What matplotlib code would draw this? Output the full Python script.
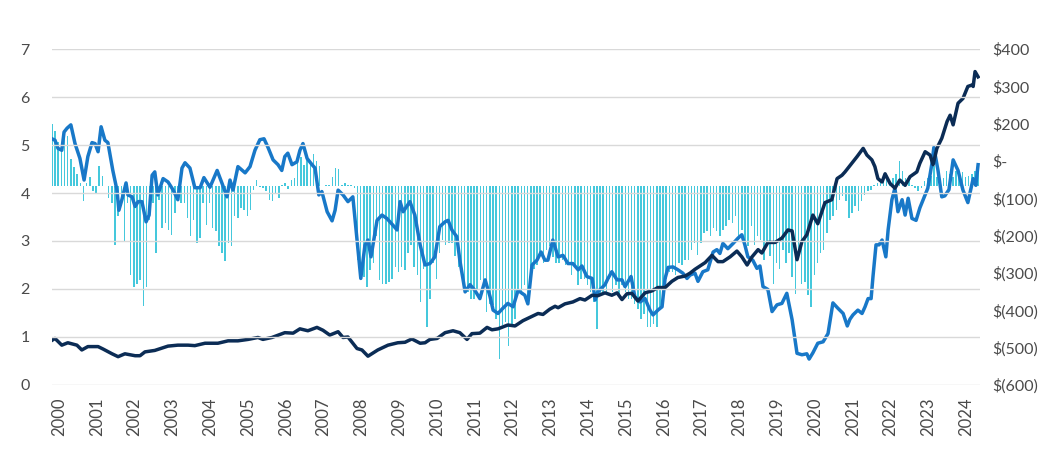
"""
Two index lines on the left scale with monthly flow bars on the right scale.
"""
import numpy as np
import matplotlib
matplotlib.use("Agg")
import matplotlib.pyplot as plt
from matplotlib.ticker import FuncFormatter

# monthly bars (right axis, dollars), Jan 2000 onwards
BAR_VALUES = [
    154, 135, 101, 87, 125, 119, 51, 28, 7, -22, -75, -22,
    -2, -46, -52, 31, 1, -31, -66, -81, -205, -119, -90, -193,
    -81, -296, -331, -322, -310, -387, -331, -131, -81, -228, -72, -155,
    -140, -161, -175, -110, -72, -81, -81, -125, -178, -131, -199, -184,
    -81, -146,
    -81, -155, -164, -208, -228, -252, -199, -208, -119, -125,
    -96, -102, -119, -102, -43, -13, -34, -37, -46, -72,
    -75, -52, -66, -28, -22, -40, -13, -7, 51, 57,
    34, 57, 42, 66, 45, 31, -31, -28, -28, -2,
    25, 22, -28, -22, -28, -28, -37, -250, -290, -302, -331,
    -281, -258, -178, -310, -322, -322, -316, -307, -272, -287,
    -272, -280, -228, -205, -272, -296, -375, -278, -449, -366,
    -258, -307, -228, -190, -205, -199, -199, -237, -272, -296,
    -325, -346, -366, -366, -340, -310, -316, -404, -381, -384,
    -425, -546, -443, -434, -507, -449, -425, -346, -355, -325,
    -384, -307, -278, -266, -228, -258, -219, -208, -240, -258,
    -258, -249, -266, -266, -296, -266, -325, -307, -307, -325,
    -346, -375, -455, -355, -346, -346, -307, -346, -325, -355,
    -325, -346, -366, -366, -381, -396, -425, -410, -449, -449,
    -440, -449, -396, -355, -307, -287, -287, -296,
    -258, -266, -249, -249, -219, -199, -234, -200, -169, -164,
    -178, -155, -164, -178, -161, -149, -131, -140, -119, -190,
    -161, -205, -208, -149, -205, -178, -190, -249, -199, -237,
    -322, -258, -278, -219, -258, -228, -300, -352, -219, -322,
    -316, -355, -390, -296, -258, -228, -219, -170, -131, -119,
    -102, -72, -60, -75, -125, -110, -90, -105, -75, -57,
    -46, -43, -28, -20, -16, -13, -7, -22, -7, 7,
    45, 16, -7, -7, -28, -37, -46, -37, -16, -7,
    1, 30, -2, -28, -7, 16, 7, -2, 16, 7,
    13, -2, 1, 7, 16, 25,
]
BAR_BASE = -30

# dark line (left axis)
NAVY_T = [
    2000.00, 2000.08, 2000.26, 2000.42, 2000.66, 2000.79, 2000.95, 2001.22, 2001.35, 2001.59,
    2001.75, 2001.93, 2002.20, 2002.33, 2002.46, 2002.72, 2002.91, 2003.07, 2003.33, 2003.60,
    2003.78, 2004.05, 2004.39, 2004.66, 2004.92, 2005.19, 2005.45, 2005.58, 2005.82, 2006.16,
    2006.38, 2006.56, 2006.77, 2007.01, 2007.17, 2007.35, 2007.57, 2007.70, 2007.83, 2008.07,
    2008.20, 2008.36, 2008.62, 2008.89, 2009.15, 2009.34, 2009.52, 2009.74, 2009.87, 2010.00,
    2010.19, 2010.40, 2010.61, 2010.79, 2010.98, 2011.11, 2011.32, 2011.51, 2011.64, 2011.80,
    2012.06, 2012.25, 2012.46, 2012.70, 2012.86, 2012.99, 2013.17, 2013.31, 2013.39, 2013.57,
    2013.78, 2013.97, 2014.10, 2014.29, 2014.44, 2014.63, 2014.81, 2014.95, 2015.08, 2015.21,
    2015.34, 2015.50, 2015.69, 2015.87, 2016.03, 2016.22, 2016.40, 2016.56, 2016.75, 2016.88,
    2017.01, 2017.28, 2017.46, 2017.62, 2017.75, 2017.94, 2018.12, 2018.25, 2018.39, 2018.52,
    2018.68, 2018.78, 2018.94, 2019.13, 2019.31, 2019.47, 2019.58, 2019.71, 2019.84, 2019.97,
    2020.13, 2020.26, 2020.45, 2020.63, 2020.77, 2020.90, 2020.98, 2021.16, 2021.30, 2021.46,
    2021.56, 2021.69, 2021.77, 2021.85, 2021.96, 2022.04, 2022.17, 2022.30, 2022.43, 2022.57,
    2022.70, 2022.88, 2022.96, 2023.10, 2023.23, 2023.31, 2023.41, 2023.54, 2023.68, 2023.76,
    2023.84, 2023.97, 2024.10, 2024.23, 2024.34, 2024.37, 2024.42, 2024.50,
]
NAVY_V = [
    0.93, 0.97, 0.83, 0.88, 0.83, 0.73, 0.80, 0.80, 0.75, 0.65,
    0.59, 0.65, 0.61, 0.61, 0.69, 0.72, 0.77, 0.81, 0.83, 0.83,
    0.82, 0.87, 0.87, 0.92, 0.92, 0.95, 0.99, 0.95, 0.99, 1.09,
    1.08, 1.17, 1.13, 1.20, 1.14, 1.04, 1.11, 0.99, 1.00, 0.76,
    0.73, 0.60, 0.73, 0.83, 0.88, 0.89, 0.96, 0.87, 0.88, 0.95,
    0.97, 1.09, 1.13, 1.09, 0.95, 1.07, 1.08, 1.20, 1.15, 1.17,
    1.25, 1.23, 1.34, 1.43, 1.49, 1.47, 1.58, 1.64, 1.61, 1.69,
    1.73, 1.80, 1.77, 1.87, 1.86, 1.92, 1.87, 1.92, 1.78, 1.90,
    1.91, 1.75, 1.92, 1.96, 2.03, 2.03, 2.16, 2.24, 2.27, 2.33,
    2.41, 2.55, 2.70, 2.57, 2.57, 2.67, 2.79, 2.67, 2.50, 2.67,
    2.82, 2.75, 2.97, 2.97, 3.06, 3.23, 3.21, 2.61, 2.99, 3.13,
    3.54, 3.36, 3.80, 3.86, 4.30, 4.37, 4.44, 4.62, 4.76, 4.93,
    4.79, 4.69, 4.55, 4.30, 4.23, 4.40, 4.20, 4.10, 4.27, 4.16,
    4.34, 4.44, 4.62, 4.86, 4.79, 4.59, 4.93, 5.14, 5.49, 5.62,
    5.42, 5.87, 5.97, 6.22, 6.25, 6.22, 6.53, 6.42,
]

# mid-blue line (left axis)
BLUE_T = [
    2000.00, 2000.08, 2000.16, 2000.26, 2000.32, 2000.40, 2000.50, 2000.61, 2000.74, 2000.85,
    2000.95, 2001.06, 2001.14, 2001.22, 2001.30, 2001.40, 2001.48, 2001.61, 2001.72, 2001.77,
    2001.85, 2001.96, 2002.01, 2002.12, 2002.20, 2002.28, 2002.38, 2002.49, 2002.57, 2002.65,
    2002.72, 2002.80, 2002.94, 2003.07, 2003.20, 2003.33, 2003.44, 2003.52, 2003.65, 2003.78,
    2003.92, 2004.02, 2004.18, 2004.37, 2004.50, 2004.63, 2004.71, 2004.79, 2004.92, 2005.11,
    2005.24, 2005.37, 2005.50, 2005.61, 2005.71, 2005.85, 2005.98, 2006.08, 2006.16, 2006.24,
    2006.35, 2006.48, 2006.56, 2006.64, 2006.75, 2006.88, 2006.96, 2007.06, 2007.14, 2007.28,
    2007.41, 2007.49, 2007.57, 2007.70, 2007.83, 2007.96, 2008.07, 2008.17, 2008.28, 2008.36,
    2008.44, 2008.60, 2008.73, 2008.86, 2009.02, 2009.13, 2009.21, 2009.29, 2009.47, 2009.60,
    2009.74, 2009.87, 2010.00, 2010.13, 2010.26, 2010.40, 2010.48, 2010.58, 2010.71, 2010.79,
    2010.93, 2011.06, 2011.19, 2011.32, 2011.46, 2011.59, 2011.67, 2011.80, 2011.93, 2012.06,
    2012.20, 2012.33, 2012.51, 2012.59, 2012.70, 2012.83, 2012.94, 2013.04, 2013.12, 2013.25,
    2013.39, 2013.52, 2013.65, 2013.78, 2013.92, 2014.02, 2014.15, 2014.29, 2014.37, 2014.44,
    2014.63, 2014.71, 2014.81, 2014.95, 2015.08, 2015.16, 2015.32, 2015.42, 2015.56, 2015.69,
    2015.82, 2015.90, 2016.03, 2016.14, 2016.22, 2016.30, 2016.43, 2016.56, 2016.69, 2016.80,
    2016.88, 2017.01, 2017.09, 2017.22, 2017.35, 2017.49, 2017.59, 2017.67, 2017.75, 2017.88,
    2018.02, 2018.15, 2018.25, 2018.33, 2018.41, 2018.54, 2018.65, 2018.73, 2018.81, 2018.94,
    2019.05, 2019.18, 2019.31, 2019.44, 2019.58, 2019.71, 2019.84, 2019.97, 2020.03, 2020.13,
    2020.26, 2020.40, 2020.53, 2020.66, 2020.79, 2020.93, 2021.04, 2021.11, 2021.19, 2021.32,
    2021.43, 2021.51, 2021.59, 2021.67, 2021.72, 2021.80, 2021.88, 2021.96, 2022.06, 2022.12,
    2022.22, 2022.30, 2022.38, 2022.49, 2022.57, 2022.65, 2022.75, 2022.86, 2022.96, 2023.10,
    2023.17, 2023.28, 2023.33, 2023.44, 2023.54, 2023.62, 2023.73, 2023.84, 2023.97, 2024.10,
    2024.23, 2024.37, 2024.44, 2024.50,
]
BLUE_V = [
    5.13, 5.10, 4.93, 4.89, 5.27, 5.35, 5.42, 5.03, 4.72, 4.27,
    4.76, 5.05, 5.03, 4.86, 5.38, 5.10, 5.05, 4.47, 4.06, 3.64,
    3.86, 4.21, 3.96, 3.92, 3.72, 3.82, 3.82, 3.40, 3.54, 4.37,
    4.44, 3.96, 4.30, 4.23, 4.07, 3.86, 4.52, 4.63, 4.52, 4.11,
    4.11, 4.32, 4.12, 4.47, 4.20, 3.92, 4.27, 4.06, 4.55, 4.42,
    4.55, 4.89, 5.11, 5.13, 4.96, 4.69, 4.59, 4.47, 4.76, 4.83,
    4.59, 4.65, 4.89, 5.03, 4.72, 4.59, 4.52, 3.96, 4.03, 3.61,
    3.42, 3.64, 4.06, 3.96, 3.82, 3.92, 3.02, 2.22, 2.91, 3.02,
    2.67, 3.43, 3.54, 3.47, 3.33, 3.23, 3.82, 3.61, 3.82, 3.54,
    2.92, 2.50, 2.53, 2.67, 3.30, 3.40, 3.43, 3.23, 3.09, 2.60,
    1.94, 2.09, 1.97, 1.80, 2.19, 1.84, 1.56, 1.49, 1.60, 1.70,
    1.63, 1.97, 1.87, 1.69, 2.50, 2.60, 2.77, 2.60, 2.60, 3.02,
    2.67, 2.70, 2.53, 2.53, 2.40, 2.48, 2.26, 2.22, 1.77, 1.94,
    2.09, 2.22, 2.36, 2.19, 2.19, 2.05, 2.26, 1.84, 1.73, 1.80,
    1.56, 1.46, 1.56, 1.63, 2.22, 2.45, 2.46, 2.40, 2.33, 2.22,
    2.29, 2.33, 2.16, 2.36, 2.40, 2.77, 2.82, 2.74, 2.95, 2.84,
    2.95, 3.06, 3.13, 2.92, 2.67, 2.60, 2.43, 2.48, 2.05, 1.99,
    1.53, 1.67, 1.70, 1.91, 1.36, 0.66, 0.63, 0.65, 0.54, 0.67,
    0.87, 0.90, 1.07, 1.71, 1.60, 1.49, 1.23, 1.37, 1.46, 1.56,
    1.49, 1.63, 1.80, 1.80, 2.26, 2.92, 2.92, 3.02, 2.67, 3.23,
    3.86, 4.10, 3.61, 3.86, 3.54, 3.89, 3.47, 3.43, 3.69, 3.96,
    4.10, 4.62, 4.95, 4.47, 3.92, 3.94, 4.07, 4.69, 4.47, 4.06,
    3.80, 4.30, 4.16, 4.59,
]

YEARS = list(range(2000, 2025))
LEFT_TICKS = list(range(0, 8))
RIGHT_LIM = (-622.2, 377.8)

NAVY = "#0b2c55"
BLUE = "#1878c8"
CYAN = "#45c8dc"
GRID = "#d9d9d9"
TEXT = "#4a4a4a"

plt.rcParams["font.family"] = ["Lato", "DejaVu Sans"]


def dollars(v, pos=None):
    "Accounting style label rounded to hundreds"
    r = int(round(v / 100.0)) * 100
    if r == 0:
        return "$-"
    if r < 0:
        return "$({:,})".format(-r)
    return "${:,}".format(r)


fig = plt.figure(figsize=(10.56, 4.58), dpi=100)
ax = fig.add_axes([0.0492, 0.1594, 0.8788, 0.7336])
axr = ax.twinx()
ax.set_zorder(axr.get_zorder() + 1)
ax.patch.set_visible(False)

bar_t = 2000 + np.arange(len(BAR_VALUES)) / 12.0
heights = np.array(BAR_VALUES, dtype=float) - BAR_BASE
axr.bar(bar_t, heights, bottom=BAR_BASE, width=0.04, color=CYAN, linewidth=0)

ax.plot(BLUE_T, BLUE_V, color=BLUE, lw=2.5, solid_joinstyle="round")
ax.plot(NAVY_T, NAVY_V, color=NAVY, lw=2.5, solid_joinstyle="round")

ax.set_xlim(2000, 2024.55)
ax.set_ylim(0, 7)
axr.set_ylim(*RIGHT_LIM)

ax.set_yticks(LEFT_TICKS)
ax.set_yticklabels([str(v) for v in LEFT_TICKS])
ax.grid(axis="y", color=GRID, lw=1.0)
ax.set_axisbelow(False)

ax.set_xticks(np.array(YEARS) + 0.185)
ax.set_xticklabels([str(y) for y in YEARS], rotation=90)

axr.set_yticks(np.linspace(RIGHT_LIM[0], RIGHT_LIM[1], 10))
axr.yaxis.set_major_formatter(FuncFormatter(dollars))

for a in (ax, axr):
    for s in a.spines.values():
        s.set_visible(False)
ax.tick_params(axis="x", length=0, pad=9, labelsize=12, labelcolor=TEXT)
ax.tick_params(axis="y", length=0, pad=16, labelsize=11.5, labelcolor=TEXT)
axr.tick_params(axis="y", length=0, pad=9, labelsize=11.5, labelcolor=TEXT)

fig.savefig("out.png", dpi=100)
